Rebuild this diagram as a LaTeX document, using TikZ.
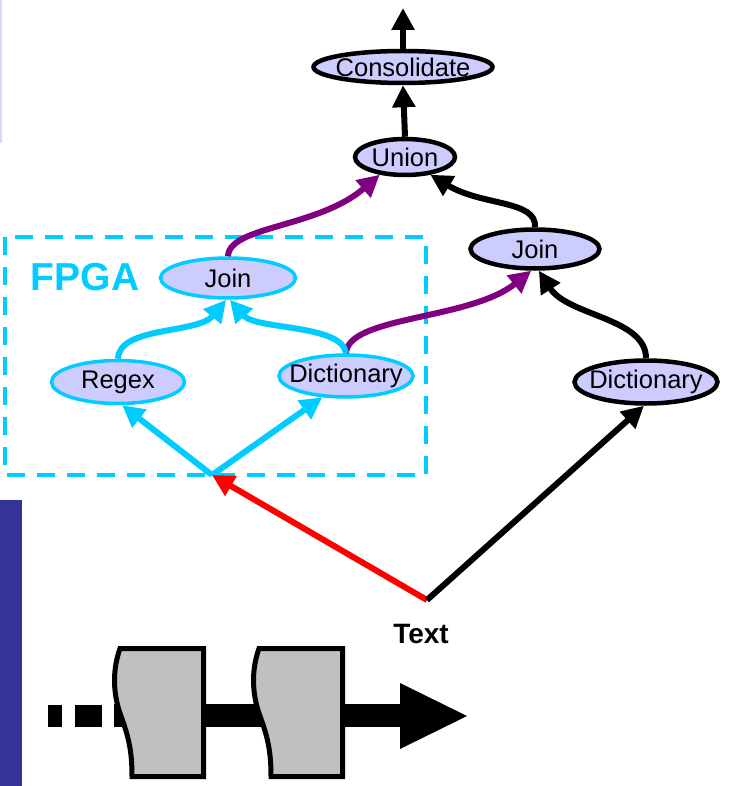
\documentclass[tikz,border=0pt]{standalone}
\usepackage{fontspec}
\setmainfont{Liberation Sans}
\usetikzlibrary{arrows.meta,shapes.geometric}

\definecolor{fpgacyan}{RGB}{0,204,255}
\definecolor{opfill}{RGB}{204,204,255}
\definecolor{flowpurple}{RGB}{128,0,128}
\definecolor{sidebar}{RGB}{51,51,153}
\definecolor{tapegray}{RGB}{192,192,192}
\definecolor{hairline}{RGB}{220,216,240}

% operator label: zero-width box so the ellipse keeps its given size
\newcommand{\oplabel}[1]{\makebox[0pt]{#1}}

\begin{document}
\begin{tikzpicture}[x=1pt,y=-1pt,
  op/.style={ellipse, draw=black, line width=4.5pt, fill=opfill, inner sep=0pt,
    font=\fontsize{25.5}{28}\selectfont},
  fpgaop/.style={op, draw=fpgacyan, line width=3.5pt},
  tipped/.style={-{Triangle[length=22pt,width=22pt]}},
  flow/.style={tipped, line width=6pt, draw=black},
  cyanflow/.style={flow, draw=fpgacyan},
  purpleflow/.style={flow, draw=flowpurple},
  redflow/.style={flow, draw=red},
  tape/.style={draw=black, line width=5pt, fill=tapegray},
]
\useasboundingbox (0,0) rectangle (731,786);

% side decorations
\draw[hairline, line width=1.5pt] (0.75,0) -- (0.75,143);
\fill[sidebar] (0,500) rectangle (22,786);

% FPGA region
\draw[fpgacyan, line width=4pt, dash pattern=on 18pt off 12pt] (5,237) rectangle (426,475);
\node[text=fpgacyan, font=\bfseries\fontsize{39}{42}\selectfont] (fpgalabel) at (85,277) {FPGA};

% operators
\node[op, minimum width=179, minimum height=32] (consolidate) at (403,67) {\oplabel{Consolidate}};
\node[op, minimum width=100, minimum height=36] (union) at (405,157) {\oplabel{Union}};
\node[op, minimum width=129, minimum height=39] (joinR) at (535,249) {\oplabel{Join}};
\node[op, minimum width=143, minimum height=43] (dictR) at (646,382) {\oplabel{Dictionary}};
\node[fpgaop, minimum width=135, minimum height=40] (joinF) at (228,278) {\oplabel{Join}};
\node[fpgaop, minimum width=133, minimum height=43] (regex) at (118,382) {\oplabel{Regex}};
\node[fpgaop, minimum width=134, minimum height=42] (dictF) at (346,376) {\oplabel{Dictionary}};

\node[font=\bfseries\fontsize{28}{30}\selectfont] (text) at (421,634) {Text};
\coordinate (src) at (427,600);
\coordinate (fork) at (212,475);
\coordinate (out) at (403,8);

% dataflow
\draw[flow] (consolidate.north) -- (out);
\draw[flow] (union.north) -- (consolidate.south);
\draw[purpleflow] (joinF.north) .. controls (229,226) and (318,228) .. (union.215);
\draw[flow] (joinR.north) .. controls (537,200) and (482,206) .. (union.-35);
\draw[flow] (dictR.north) .. controls (646,318) and (568,316) .. (joinR.280);
\draw[purpleflow] (dictF.north) .. controls (348,316) and (470,320) .. (joinR.260);
\draw[cyanflow] (regex.north) .. controls (119,326) and (198,334) .. (joinF.265);
\draw[cyanflow] (dictF.north) .. controls (342,324) and (256,330) .. (joinF.275);
\draw[cyanflow] (fork) -- (regex.280);
\draw[cyanflow] (fork) -- (dictF.222);
\draw[redflow] (src) -- (fork);
\draw[flow] (src) -- (dictR.265);

% tape stream
\fill (48,705) rectangle (62,727);
\fill (75,705) rectangle (102,727);
\fill (114,704) rectangle (402,727);
\fill (400,683) -- (467,716) -- (400,749) -- cycle;
\foreach \dx in {0,139} {
  \draw[tape, xshift=\dx pt] (120,648.5) .. controls (113,668) and (112,692) .. (121,716)
    .. controls (129,738) and (132,752) .. (132,776.5) -- (203.5,776.5) -- (203.5,648.5) -- cycle;
}
\end{tikzpicture}
\end{document}
